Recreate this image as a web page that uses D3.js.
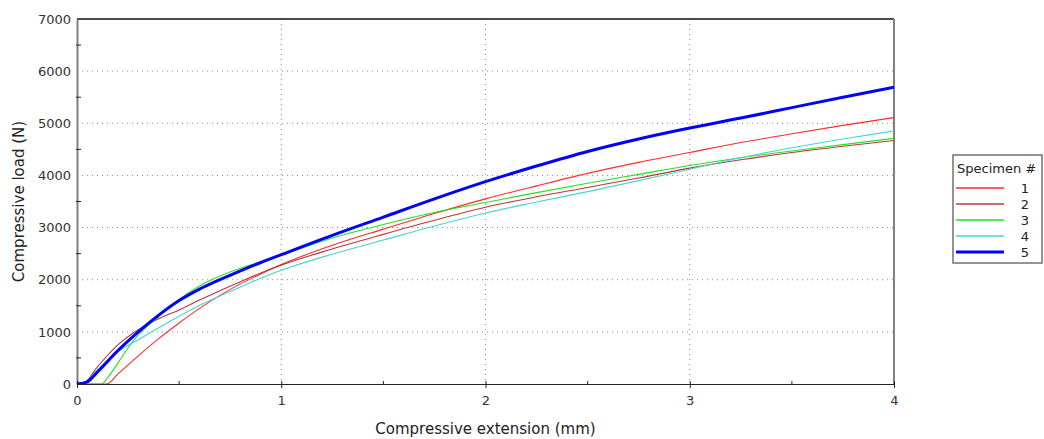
<!DOCTYPE html>
<html>
<head>
<meta charset="utf-8">
<script src="https://cdn.jsdelivr.net/npm/d3@7"></script>
<style>
  body { margin: 0; background: #fff; }
  svg { display: block; font-family: "DejaVu Sans", Verdana, sans-serif; }
</style>
</head>
<body>
<div id="chart"></div>
<script>
// ---------- DATA ----------
const specimens = ["1", "2", "3", "4", "5"];
const colors = ["#ff2a2a", "#b83838", "#22e022", "#48d4d4", "#0000ff"];
const widths = [1.1, 1.1, 1.1, 1.1, 3];

const xTicks = [0, 1, 2, 3, 4];
const yTicks = [0, 1000, 2000, 3000, 4000, 5000, 6000, 7000];

const s1x = [0, 0.145, 0.2, 0.3, 0.4, 0.5, 0.6, 0.7, 0.8, 0.9, 1.0, 1.25, 1.5, 1.75, 2.0, 2.25, 2.5, 2.75, 3.0, 3.25, 3.5, 3.75, 4.0];
const s1y = [0, 0, 190, 540, 870, 1170, 1450, 1700, 1920, 2110, 2290, 2660, 2970, 3270, 3550, 3800, 4040, 4250, 4440, 4630, 4800, 4960, 5110];

const s2x = [0, 0.03, 0.1, 0.2, 0.3, 0.4, 0.5, 0.6, 0.7, 0.8, 0.9, 1.0, 1.25, 1.5, 1.75, 2.0, 2.25, 2.5, 2.75, 3.0, 3.25, 3.5, 3.75, 4.0];
const s2y = [0, 10, 330, 750, 1040, 1250, 1420, 1610, 1790, 1960, 2130, 2280, 2590, 2870, 3140, 3390, 3590, 3770, 3950, 4140, 4300, 4440, 4560, 4670];

const s3x = [0, 0.12, 0.15, 0.2, 0.25, 0.3, 0.4, 0.5, 0.6, 0.7, 0.8, 0.9, 1.0, 1.25, 1.5, 1.75, 2.0, 2.25, 2.5, 2.75, 3.0, 3.25, 3.5, 3.75, 4.0];
const s3y = [0, 0, 120, 400, 690, 940, 1290, 1620, 1880, 2070, 2220, 2340, 2470, 2800, 3060, 3290, 3480, 3670, 3850, 4020, 4190, 4340, 4470, 4590, 4710];

const s4x = [0, 0.03, 0.1, 0.2, 0.3, 0.4, 0.5, 0.6, 0.7, 0.8, 0.9, 1.0, 1.25, 1.5, 1.75, 2.0, 2.25, 2.5, 2.75, 3.0, 3.25, 3.5, 3.75, 4.0];
const s4y = [0, 0, 280, 620, 850, 1080, 1300, 1510, 1690, 1860, 2030, 2180, 2490, 2760, 3030, 3280, 3490, 3690, 3900, 4120, 4340, 4530, 4700, 4855];

const s5x = [0, 0.05, 0.1, 0.2, 0.3, 0.4, 0.5, 0.6, 0.7, 0.8, 0.9, 1.0, 1.25, 1.5, 1.75, 2.0, 2.25, 2.5, 2.75, 3.0, 3.25, 3.5, 3.75, 4.0];
const s5y = [0, 40, 230, 640, 1000, 1320, 1600, 1820, 2000, 2170, 2330, 2480, 2850, 3200, 3550, 3880, 4180, 4460, 4700, 4910, 5100, 5300, 5500, 5690];

const seriesX = [s1x, s2x, s3x, s4x, s5x];
const seriesY = [s1y, s2y, s3y, s4y, s5y];

// ---------- DRAW ----------
const W = 1044, H = 439;
const M = { left: 77, top: 19, right: 150, bottom: 55 };
const pw = W - M.left - M.right;   // 817
const ph = H - M.top - M.bottom;   // 365

const svg = d3.select("#chart").append("svg")
  .attr("width", W)
  .attr("height", H);

const x = d3.scaleLinear().domain([0, 4]).range([M.left, M.left + pw]);
const y = d3.scaleLinear().domain([0, 7000]).range([M.top + ph, M.top]);

// grid (dotted)
svg.append("g")
  .selectAll("line")
  .data(yTicks.filter(t => t > 0 && t < 7000))
  .join("line")
  .attr("x1", x(0)).attr("x2", x(4))
  .attr("y1", d => y(d)).attr("y2", d => y(d))
  .attr("stroke", "#8a8a8a")
  .attr("stroke-dasharray", "1,4");

svg.append("g")
  .selectAll("line")
  .data(xTicks.filter(t => t > 0 && t < 4))
  .join("line")
  .attr("x1", d => x(d)).attr("x2", d => x(d))
  .attr("y1", y(7000)).attr("y2", y(0))
  .attr("stroke", "#8a8a8a")
  .attr("stroke-dasharray", "1,4");

// frame
svg.append("line")
  .attr("x1", x(0)).attr("x2", x(4))
  .attr("y1", y(7000)).attr("y2", y(7000))
  .attr("stroke", "#111").attr("stroke-width", 1.5);
svg.append("line")
  .attr("x1", x(4)).attr("x2", x(4))
  .attr("y1", y(7000)).attr("y2", y(0))
  .attr("stroke", "#808080").attr("stroke-width", 2);

// y axis
const yAxis = svg.append("g")
  .attr("transform", `translate(${x(0)},0)`)
  .call(d3.axisLeft(y).tickValues(yTicks).tickSize(0).tickPadding(6).tickFormat(d3.format("d")));
yAxis.select(".domain").attr("stroke", "#808080").attr("stroke-width", 2);
yAxis.selectAll("text").attr("font-size", 13).attr("fill", "#333")
  .attr("font-family", "DejaVu Sans, Verdana, sans-serif");

svg.append("g")
  .selectAll("line")
  .data(d3.range(500, 7000, 1000))
  .join("line")
  .attr("x1", x(0) - 1).attr("x2", x(0) + 4)
  .attr("y1", d => y(d)).attr("y2", d => y(d))
  .attr("stroke", "#222");

// x axis
const xAxis = svg.append("g")
  .attr("transform", `translate(0,${y(0)})`)
  .call(d3.axisBottom(x).tickValues(xTicks).tickSize(4).tickPadding(8).tickFormat(d3.format("d")));
xAxis.select(".domain").attr("stroke", "#222");
xAxis.selectAll(".tick line").attr("y1", -3).attr("stroke", "#222");
xAxis.selectAll("text").attr("font-size", 13).attr("fill", "#333")
  .attr("font-family", "DejaVu Sans, Verdana, sans-serif");

svg.append("g")
  .selectAll("line")
  .data([0.5, 1.5, 2.5, 3.5])
  .join("line")
  .attr("x1", d => x(d)).attr("x2", d => x(d))
  .attr("y1", y(0) - 3).attr("y2", y(0))
  .attr("stroke", "#222");

// titles
svg.append("text")
  .attr("x", x(2)).attr("y", 434)
  .attr("text-anchor", "middle")
  .attr("font-size", 15).attr("fill", "#222")
  .text("Compressive extension (mm)");

svg.append("text")
  .attr("transform", `translate(24,${(y(0) + y(7000)) / 2}) rotate(-90)`)
  .attr("text-anchor", "middle")
  .attr("font-size", 15).attr("fill", "#222")
  .text("Compressive load (N)");

// ---------- LINES ----------
const line = d3.line()
  .x(d => x(d[0]))
  .y(d => y(d[1]))
  .curve(d3.curveMonotoneX);

svg.append("clipPath").attr("id", "plot-clip")
  .append("rect")
  .attr("x", x(0)).attr("y", y(7000))
  .attr("width", pw).attr("height", ph);

specimens.forEach((s, i) => {
  const pts = seriesX[i].map((v, j) => [v, seriesY[i][j]]);
  svg.append("path")
    .datum(pts)
    .attr("clip-path", "url(#plot-clip)")
    .attr("fill", "none")
    .attr("stroke", colors[i])
    .attr("stroke-width", widths[i])
    .attr("d", line);
});

// ---------- LEGEND ----------
const lg = svg.append("g").attr("transform", "translate(953,155)");

lg.append("rect")
  .attr("x", 0).attr("y", 0)
  .attr("width", 89).attr("height", 108)
  .attr("fill", "#fff")
  .attr("stroke", "#707070")
  .attr("stroke-width", 1.5);

lg.append("text")
  .attr("x", 4).attr("y", 18)
  .attr("font-size", 13).attr("fill", "#222")
  .text("Specimen #");

specimens.forEach((s, i) => {
  const ly = 33 + i * 16;
  lg.append("line")
    .attr("x1", 3).attr("x2", 51)
    .attr("y1", ly).attr("y2", ly)
    .attr("stroke", colors[i])
    .attr("stroke-width", i === 4 ? 3 : 1.3);
  lg.append("text")
    .attr("x", 72).attr("y", ly + 5)
    .attr("text-anchor", "middle")
    .attr("font-size", 13).attr("fill", "#222")
    .text(s);
});
</script>
</body>
</html>
